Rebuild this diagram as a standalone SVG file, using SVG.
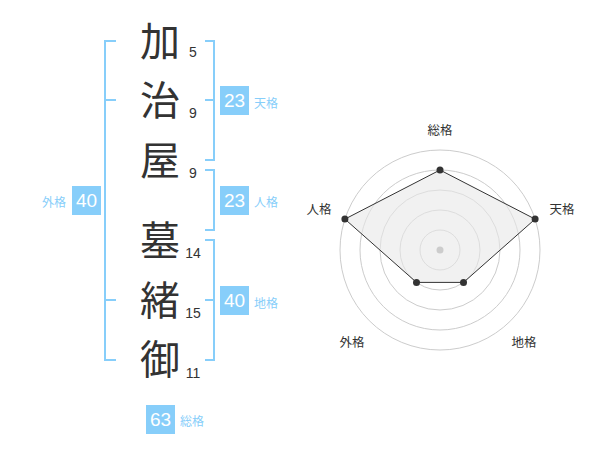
<svg xmlns="http://www.w3.org/2000/svg" width="600" height="470" viewBox="0 0 600 470">
<style>
.k{font-family:"Noto Sans CJK JP","Noto Sans CJK SC",sans-serif;font-size:40px;fill:#333;text-anchor:middle}
.n{font-family:"Liberation Sans",Arial,sans-serif;font-size:14px;fill:#333;text-anchor:middle}
.br{fill:none;stroke:#87cefa;stroke-width:2}
.box{fill:#87cefa}
.bn{font-family:"Liberation Sans",Arial,sans-serif;font-size:19px;fill:#fff;text-anchor:middle}
.bl{font-family:"Noto Sans CJK JP",sans-serif;font-size:12px;fill:#87cefa}
.rl{font-family:"Noto Sans CJK JP",sans-serif;font-size:12.5px;fill:#333;text-anchor:middle}
.ring{fill:none;stroke:#ccc;stroke-width:1}
.pt{fill:#333}
</style>
<g id="name">
<g id="c1"><text class="k" x="160" y="56">加</text><text class="n" x="193" y="57">5</text></g>
<g id="c2"><text class="k" x="160" y="115">治</text><text class="n" x="193" y="118">9</text></g>
<g id="c3"><text class="k" x="160" y="175">屋</text><text class="n" x="193" y="178">9</text></g>
<g id="c4"><text class="k" x="160" y="255">墓</text><text class="n" x="193" y="258">14</text></g>
<g id="c5"><text class="k" x="160" y="315">緒</text><text class="n" x="193" y="318">15</text></g>
<g id="c6"><text class="k" x="160" y="374">御</text><text class="n" x="193" y="378">11</text></g>
</g>
<g id="connectors">
<path class="br" d="M116,41H105V360H116M105,100H116M105,300H116"/>
<path class="br" d="M205,41H214V160H205M214,100H205"/>
<path class="br" d="M205,170H214V230H205"/>
<path class="br" d="M205,240H214V360H205M214,300H205"/>
</g>
<g id="tenkaku"><rect class="box" x="220" y="86" width="29" height="29"/><text class="bn" x="234.5" y="107">23</text><text class="bl" x="254" y="108">天格</text></g>
<g id="jinkaku"><rect class="box" x="220" y="186" width="29" height="29"/><text class="bn" x="234.5" y="207">23</text><text class="bl" x="254" y="207">人格</text></g>
<g id="chikaku"><rect class="box" x="220" y="286" width="29" height="29"/><text class="bn" x="234.5" y="307">40</text><text class="bl" x="254" y="308">地格</text></g>
<g id="gaikaku"><rect class="box" x="72" y="186" width="29" height="29"/><text class="bn" x="86.5" y="207">40</text><text class="bl" x="42" y="207">外格</text></g>
<g id="soukaku"><rect class="box" x="146" y="405" width="29" height="29"/><text class="bn" x="160.5" y="426">63</text><text class="bl" x="180" y="426">総格</text></g>
<g id="radar">
<circle class="ring" cx="440" cy="250" r="20"/>
<circle class="ring" cx="440" cy="250" r="40"/>
<circle class="ring" cx="440" cy="250" r="60"/>
<circle class="ring" cx="440" cy="250" r="80"/>
<circle class="ring" cx="440" cy="250" r="100"/>
<polygon points="440,170 535.1,219.1 463.5,282.4 416.5,282.4 344.9,219.1" fill="#e8e8e8" fill-opacity="0.6" stroke="#333" stroke-width="1"/>
<circle cx="440" cy="250" r="3.5" fill="#ccc"/>
<circle class="pt" cx="440" cy="170" r="3.5"/>
<circle class="pt" cx="535.1" cy="219.1" r="3.5"/>
<circle class="pt" cx="463.5" cy="282.4" r="3.5"/>
<circle class="pt" cx="416.5" cy="282.4" r="3.5"/>
<circle class="pt" cx="344.9" cy="219.1" r="3.5"/>
<text class="rl" x="440" y="134.5">総格</text>
<text class="rl" x="562" y="213.5">天格</text>
<text class="rl" x="319" y="213.5">人格</text>
<text class="rl" x="352" y="346.5">外格</text>
<text class="rl" x="524" y="346.5">地格</text>
</g>
</svg>
